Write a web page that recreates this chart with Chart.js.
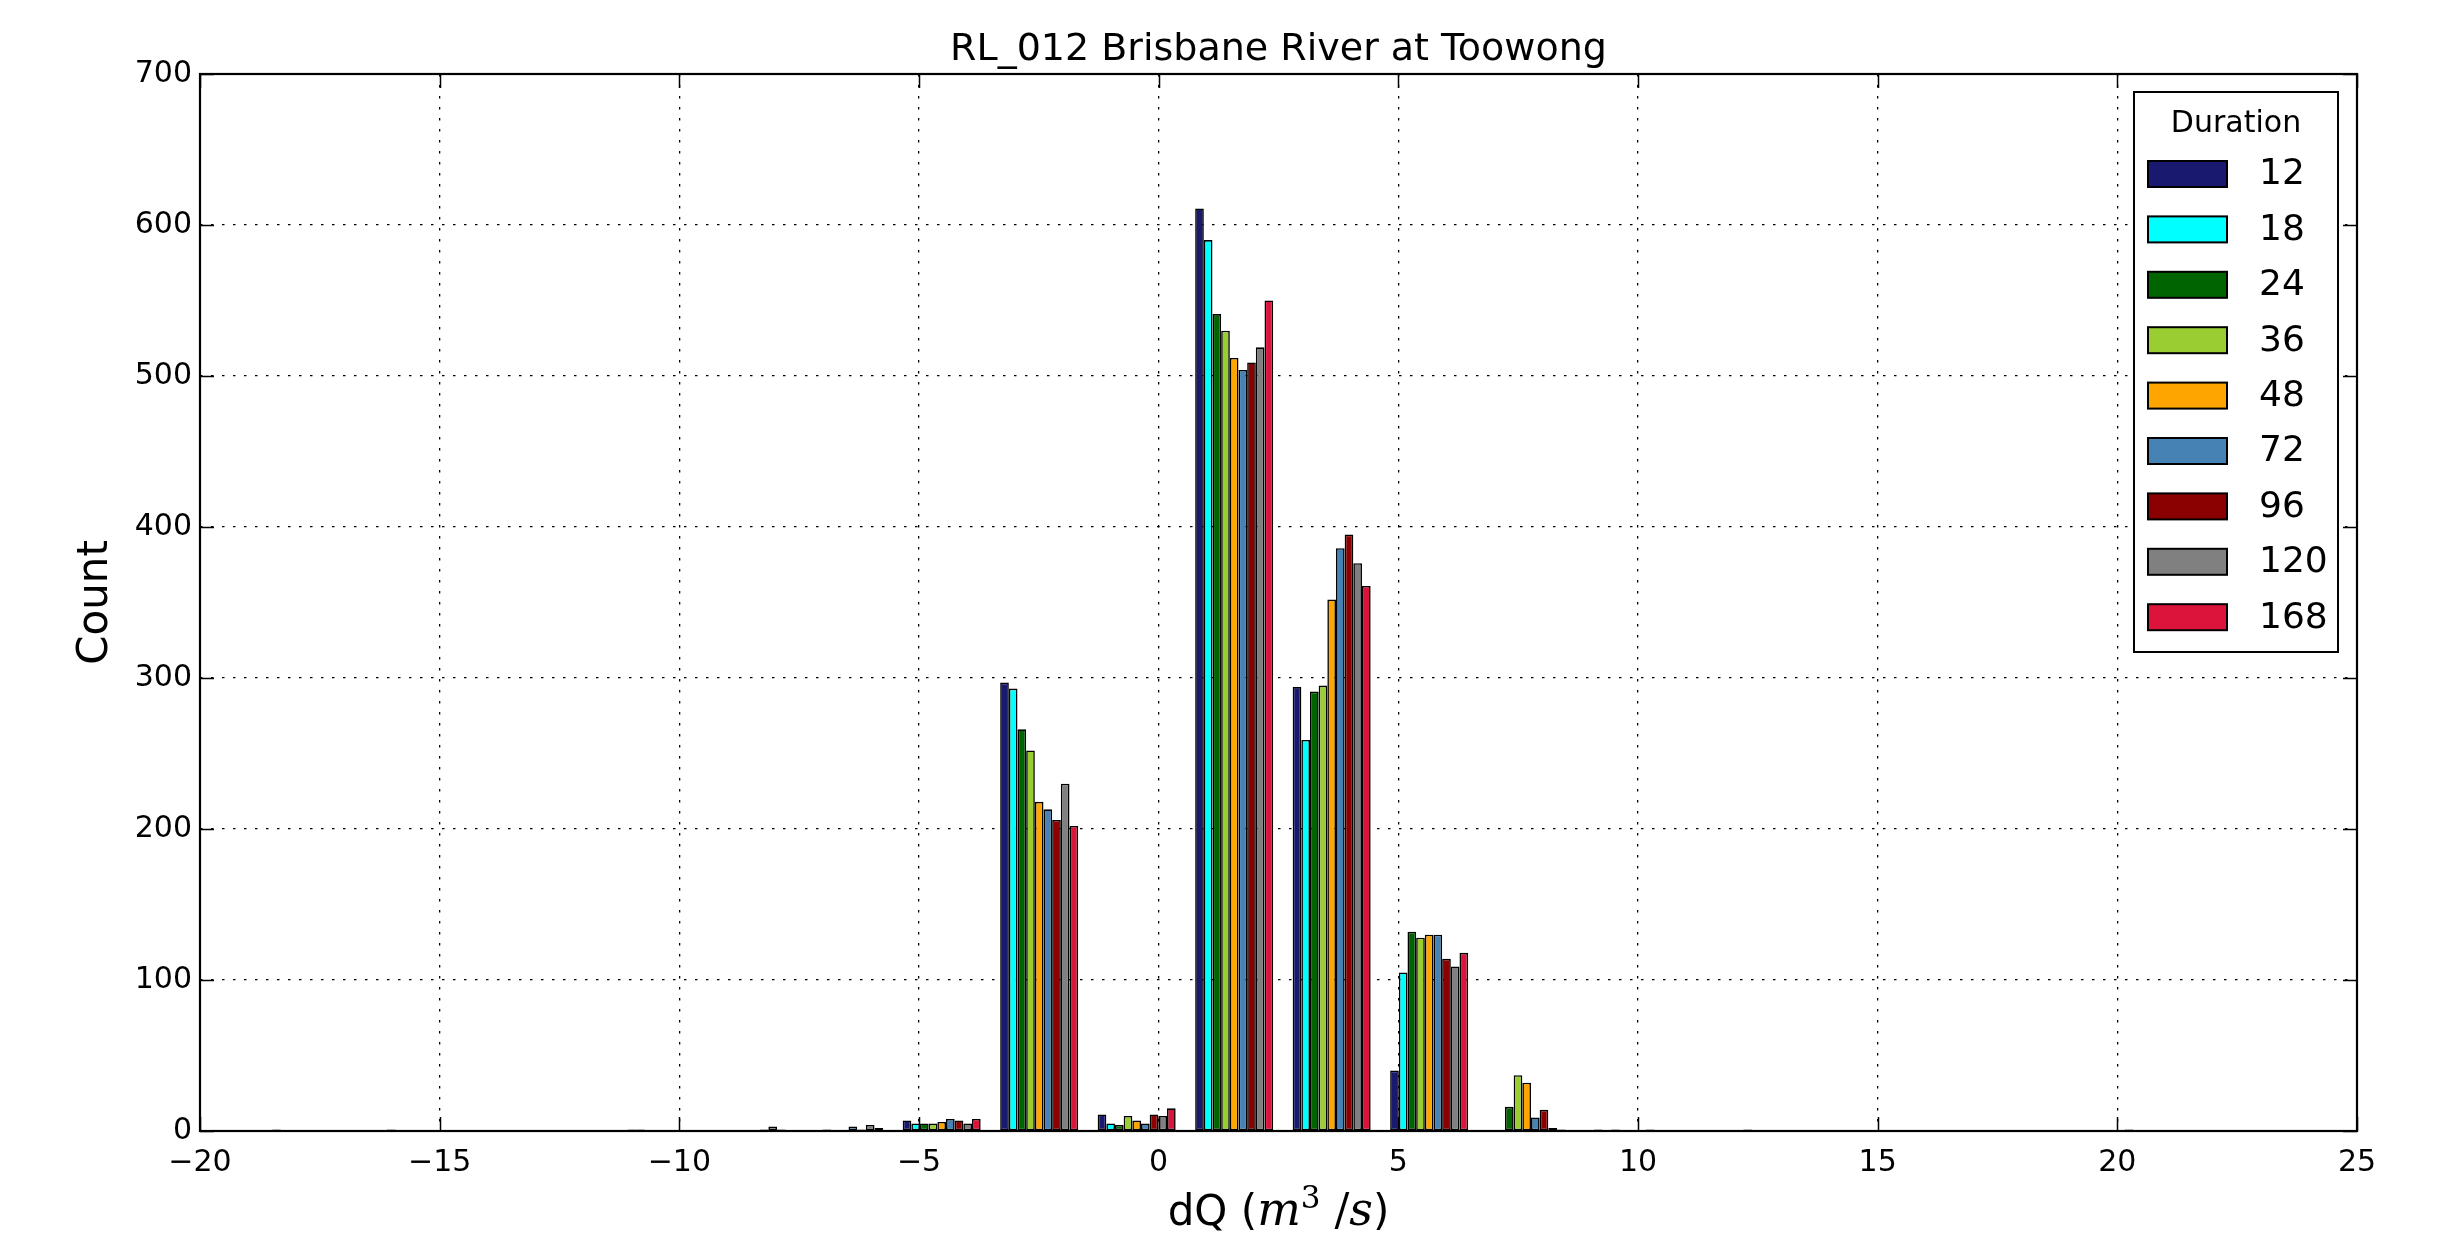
<!DOCTYPE html>
<html><head><meta charset="utf-8">
<script src="https://cdn.jsdelivr.net/npm/chart.js@4/dist/chart.umd.min.js"></script>
<style>html,body{margin:0;padding:0;background:#fff;}#wrap{width:2452px;height:1245px;}</style>
</head><body><div id="wrap"><canvas id="c" width="2452" height="1245"></canvas></div>
<script>
// ---- data ----
const chartTitle = 'RL_012 Brisbane River at Toowong';
const legendTitle = 'Duration';
const yAxisTitle = 'Count';
const binCenters = [-18.765, -16.731, -14.697, -12.663, -10.629, -8.595, -6.561, -4.527, -2.493, -0.459,
                    1.575, 3.609, 5.643, 7.677, 9.711, 11.745, 13.779, 15.813, 17.847, 19.881];
const durations = ['12', '18', '24', '36', '48', '72', '96', '120', '168'];
const count12  = [0,0,0,0,0,0,0,7,297,11,611,294,40,0,0,0,0,0,0,0];
const count18  = [0,0,0,0,0,0,0,5,293,5,590,259,105,0,1,0,0,0,0,0];
const count24  = [0,0,0,0,1,0,1,5,266,4,541,291,132,16,0,0,0,0,0,0];
const count36  = [0,0,0,0,1,0,0,5,252,10,530,295,128,37,1,0,0,0,0,0];
const count48  = [0,0,0,0,0,0,0,6,218,7,512,352,130,32,0,0,0,0,0,0];
const count72  = [0,0,0,0,0,0,3,8,213,5,504,386,130,9,0,0,0,0,0,0];
const count96  = [1,0,0,0,0,1,1,7,206,11,509,395,114,14,0,0,0,0,0,1];
const count120 = [0,0,0,0,0,3,4,5,230,10,519,376,109,2,1,1,0,0,0,0];
const count168 = [0,1,0,0,0,1,2,8,202,15,550,361,118,1,0,0,0,0,0,0];
const xTickValues = [-20, -15, -10, -5, 0, 5, 10, 15, 20, 25];
const yTickValues = [0, 100, 200, 300, 400, 500, 600, 700];

// ---- styles ----
const seriesColors = ['#191970', '#00FFFF', '#006400', '#9ACD32', '#FFA500', '#4682B4', '#8B0000', '#808080', '#DC143C'];
const allCounts = [count12, count18, count24, count36, count48, count72, count96, count120, count168];

const datasets = durations.map((d, k) => ({
  label: d,
  data: binCenters.map((x, i) => ({x: x, y: allCounts[k][i]})),
  backgroundColor: seriesColors[k],
  borderColor: '#000000',
  borderWidth: 1.6,
  borderSkipped: false,
  categoryPercentage: 0.8,
  barPercentage: 1.0
}));

const minusFmt = v => String(v).replace('-', '\u2212');

const framePlugin = {
  id: 'frame',
  afterDatasetsDraw(chart) {
    const {ctx, chartArea: a, scales: {x, y}} = chart;
    ctx.save();
    ctx.strokeStyle = '#000';
    ctx.lineWidth = 1.5;
    const tl = 14;
    ctx.beginPath();
    xTickValues.forEach(v => {
      const px = Math.round(x.getPixelForValue(v)) + 0.5;
      ctx.moveTo(px, a.bottom); ctx.lineTo(px, a.bottom - tl);
      ctx.moveTo(px, a.top); ctx.lineTo(px, a.top + tl);
    });
    yTickValues.forEach(v => {
      const py = Math.round(y.getPixelForValue(v)) + 0.5;
      ctx.moveTo(a.left, py); ctx.lineTo(a.left + tl, py);
      ctx.moveTo(a.right, py); ctx.lineTo(a.right - tl, py);
    });
    ctx.stroke();
    ctx.lineWidth = 2.2;
    ctx.strokeRect(a.left, a.top, a.right - a.left, a.bottom - a.top);
    ctx.restore();
  },
  afterDraw(chart) {
    const {ctx, chartArea: a} = chart;
    // legend box
    ctx.save();
    const bw = 204, bh = 560;
    const bx = a.right - 19 - bw, by = a.top + 18;
    ctx.fillStyle = '#fff';
    ctx.fillRect(bx, by, bw, bh);
    ctx.strokeStyle = '#000';
    ctx.lineWidth = 2;
    ctx.strokeRect(bx, by, bw, bh);
    ctx.fillStyle = '#000';
    ctx.textBaseline = 'middle';
    ctx.textAlign = 'center';
    ctx.font = '30px "DejaVu Sans"';
    ctx.fillText(legendTitle, bx + bw / 2, by + 32);
    ctx.textAlign = 'left';
    ctx.font = '36px "DejaVu Sans"';
    chart.data.datasets.forEach((ds, i) => {
      const cy = by + 82 + i * 55.4;
      ctx.fillStyle = ds.backgroundColor;
      ctx.fillRect(bx + 14, cy - 13, 79, 26);
      ctx.lineWidth = 2;
      ctx.strokeStyle = '#000';
      ctx.strokeRect(bx + 14, cy - 13, 79, 26);
      ctx.fillStyle = '#000';
      ctx.fillText(ds.label, bx + 125, cy + 1);
    });
    // x axis title with math-style units
    const cx = (a.left + a.right) / 2;
    const base = 1225;
    const parts = [
      {t: 'dQ (', f: '42px "DejaVu Sans"', dy: 0},
      {t: 'm', f: 'italic 46px "DejaVu Serif"', dy: 0},
      {t: '3', f: '31px "DejaVu Serif"', dy: -17},
      {t: ' /', f: '44px "DejaVu Serif"', dy: 0},
      {t: 's', f: 'italic 46px "DejaVu Serif"', dy: 0},
      {t: ')', f: '42px "DejaVu Sans"', dy: 0}
    ];
    let total = 0;
    parts.forEach(p => { ctx.font = p.f; p.w = ctx.measureText(p.t).width; total += p.w; });
    let px = cx - total / 2;
    ctx.textBaseline = 'alphabetic';
    ctx.textAlign = 'left';
    ctx.fillStyle = '#000';
    parts.forEach(p => { ctx.font = p.f; ctx.fillText(p.t, px, base + p.dy); px += p.w; });
    ctx.restore();
  }
};

new Chart(document.getElementById('c'), {
  type: 'bar',
  data: {datasets},
  plugins: [framePlugin],
  options: {
    responsive: false,
    animation: false,
    devicePixelRatio: 1,
    layout: {padding: {left: 0, right: 95, top: 0, bottom: 0}},
    plugins: {
      legend: {display: false},
      tooltip: {enabled: false},
      title: {
        display: true,
        text: chartTitle,
        fullSize: false,
        color: '#000',
        font: {family: '"DejaVu Sans"', size: 38, weight: 'normal', lineHeight: 1.2},
        padding: {top: 27, bottom: 1.4}
      }
    },
    scales: {
      x: {
        type: 'linear',
        min: -20, max: 25,
        offset: false,
        afterBuildTicks: s => { s.ticks = xTickValues.map(v => ({value: v})); },
        afterFit: s => { s.height = 114; },
        grid: {color: '#000', lineWidth: 1.3, drawTicks: false, offset: false},
        border: {display: false, dash: [2.5, 8.5]},
        ticks: {color: '#000', font: {family: '"DejaVu Sans"', size: 30}, padding: 14, maxRotation: 0, autoSkip: false, callback: v => minusFmt(v)},
        title: {display: false}
      },
      y: {
        type: 'linear',
        min: 0, max: 700,
        afterBuildTicks: s => { s.ticks = yTickValues.map(v => ({value: v})); },
        afterFit: s => { s.width = 200; },
        grid: {color: '#000', lineWidth: 1.3, drawTicks: false, offset: false},
        border: {display: false, dash: [2.5, 8.5]},
        ticks: {color: '#000', font: {family: '"DejaVu Sans"', size: 30}, padding: 8, callback: v => minusFmt(v)},
        title: {display: true, text: yAxisTitle, color: '#000', font: {family: '"DejaVu Sans"', size: 42, lineHeight: 1.2}, padding: {top: 71, bottom: 0}}
      }
    }
  }
});
</script></body></html>
